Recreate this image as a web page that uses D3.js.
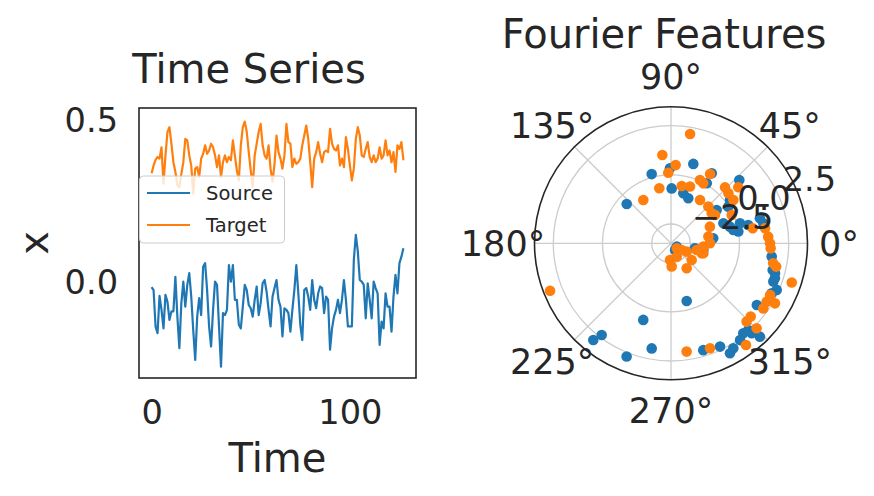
<!DOCTYPE html>
<html><head><meta charset="utf-8">
<script src="https://cdn.jsdelivr.net/npm/d3@7"></script>
<style>
body{margin:0;background:#fff;}
svg{display:block;font-family:"DejaVu Sans",sans-serif;}
</style></head>
<body><svg id="c" width="874" height="496"></svg>
<script>
// ---------------- data ----------------
const sourceSeries = [-0.013,-0.022,-0.134,-0.155,-0.040,-0.083,-0.140,-0.037,-0.058,-0.114,-0.088,-0.088,0.019,-0.104,-0.201,-0.063,0.004,-0.073,-0.006,0.030,-0.042,-0.145,-0.237,-0.104,-0.047,-0.099,0.050,0.061,-0.022,-0.134,-0.196,-0.083,0.004,-0.006,-0.134,-0.258,-0.093,-0.099,-0.083,0.055,0.004,0.055,-0.052,-0.052,-0.129,-0.140,-0.073,-0.006,-0.022,-0.068,-0.078,-0.104,-0.052,-0.011,-0.099,-0.063,-0.001,0.009,-0.027,-0.083,-0.134,-0.042,-0.016,0.009,-0.052,-0.073,-0.165,-0.078,-0.083,-0.093,-0.150,-0.083,-0.022,0.055,-0.032,-0.129,-0.176,-0.022,-0.016,-0.042,-0.083,0.009,-0.052,-0.078,-0.032,-0.011,-0.016,-0.093,-0.042,-0.052,-0.206,-0.140,-0.104,-0.083,-0.052,-0.093,-0.052,0.009,-0.052,-0.134,-0.134,-0.134,0.071,0.148,0.097,0.009,0.004,-0.006,-0.109,-0.001,-0.052,-0.109,0.004,-0.016,-0.032,-0.191,-0.119,-0.140,-0.032,-0.073,-0.073,-0.150,-0.042,0.025,-0.032,0.061,0.081,0.107];
const targetSeries = [0.338,0.362,0.379,0.388,0.383,0.418,0.306,0.393,0.465,0.480,0.429,0.372,0.342,0.301,0.295,0.336,0.372,0.444,0.439,0.393,0.362,0.275,0.352,0.357,0.326,0.383,0.398,0.424,0.398,0.408,0.429,0.418,0.393,0.357,0.393,0.326,0.372,0.393,0.372,0.388,0.378,0.439,0.393,0.347,0.316,0.424,0.480,0.497,0.465,0.403,0.347,0.295,0.393,0.429,0.465,0.490,0.424,0.393,0.383,0.424,0.352,0.311,0.367,0.454,0.403,0.383,0.352,0.393,0.490,0.434,0.429,0.357,0.383,0.367,0.372,0.383,0.424,0.454,0.485,0.444,0.372,0.295,0.383,0.403,0.434,0.398,0.372,0.403,0.408,0.403,0.475,0.429,0.413,0.408,0.424,0.362,0.383,0.357,0.449,0.413,0.362,0.316,0.352,0.444,0.480,0.454,0.393,0.388,0.413,0.434,0.388,0.372,0.393,0.372,0.383,0.418,0.383,0.393,0.439,0.393,0.408,0.372,0.403,0.342,0.424,0.413,0.434,0.378];
const seriesNames = ["Source","Target"];
const seriesColors = ["#1f77b4","#ff7f0e"];
const timeTicks = [0,100];
const xTicks = [0.0,0.5];

// Fourier features: [angle in degrees, radial value]
const sourceFourier = [[74.3,0.71],[105.6,0.17],[90.8,0.33],[89.3,-0.69],[76.2,-0.86],[69,-1.03],[59.8,0.64],[59.2,0.07],[42.8,1.25],[36.3,0.24],[32.6,-0.03],[36.1,-0.61],[20.9,-0.63],[15.8,-0.37],[9.9,-0.01],[16.2,0.17],[12.1,-0.24],[15.7,1.21],[12.2,1.32],[-7.5,1.68],[-16.1,2.02],[-20.5,2.07],[-23.8,2.39],[-26.4,2.23],[-35.7,1.89],[-51.2,2.38],[-54.5,2.56],[-46.4,3.07],[-48.1,2.66],[-64.6,2.33],[-73.2,2.19],[-61.8,2.86],[-59.3,2.72],[138.4,-0.47],[-74.8,-0.44],[-109.9,0.66],[-100.4,1.95],[-111.4,2.70],[-128.8,2.82],[-127.1,2.36],[-30,-3.14],[-59,-3.08],[-11.8,-2.24],[-11.7,-1.80],[13.3,0.55],[6.7,-1.32],[-14.7,1.86],[-18.6,2.09],[-48.3,2.42]];
const targetFourier = [[80.1,2.16],[95.6,1.03],[86.6,0.50],[92.2,0.11],[60.6,0.56],[102,-0.62],[122.6,-0.87],[79.4,-0.52],[71.5,-0.44],[65.4,0.06],[61.7,-0.02],[46,0.47],[41.1,0.39],[39.8,0.97],[34.8,0.38],[25,-0.08],[56.2,-0.83],[44.5,-0.82],[36.4,-0.91],[32.8,-0.82],[23.2,-1.33],[10.2,-1.55],[-5.9,-1.83],[-18,-1.84],[0,-1.50],[10.4,0.74],[9.1,1.36],[3.9,1.47],[0,1.55],[-2.9,1.59],[-11.1,1.81],[-12.5,1.99],[-18,2.97],[-27.6,2.20],[-31.4,2.21],[-35.2,2.26],[-30,2.62],[-42.6,2.02],[-46,2.05],[-44.8,2.65],[-53.6,2.94],[-69.6,2.21],[-81.8,2.08],[-158.6,3.12],[-41,-3.09],[-32,-2.84],[-27.9,-2.58],[-38.9,-2.13],[-57.9,-1.98],[-93.4,-2.63],[-88.3,-2.30],[-66.8,-2.74],[-14.6,-2.13],[-17.2,-1.76]];
const radialTicks = [-2.5,0.0,2.5];
const angleTicks = [0,45,90,135,180,225,270,315];

// ---------------- chart ----------------
const svg = d3.select("#c");
const ink = "#262626";
const tickFont = 33.6, labelFont = 40, polarFont = 35;

// ----- left: time series -----
const L = {x0:139, x1:416, y0:108, y1:378};
const x = d3.scaleLinear().domain([-6.35,133.35]).range([L.x0,L.x1]);
const y = d3.scaleLinear().domain([-0.293,0.539]).range([L.y1,L.y0]);

const gl = svg.append("g");
const line = d3.line().x((d,i)=>x(i)).y(d=>y(d));
[sourceSeries,targetSeries].forEach((s,k)=>{
  gl.append("path").datum(s).attr("d",line).attr("fill","none")
    .attr("stroke",seriesColors[k]).attr("stroke-width",2.2).attr("stroke-linejoin","round");
});
gl.append("rect").attr("x",L.x0).attr("y",L.y0).attr("width",L.x1-L.x0).attr("height",L.y1-L.y0)
  .attr("fill","none").attr("stroke",ink).attr("stroke-width",1.6);

const ax = gl.append("g").attr("transform",`translate(0,${L.y1})`)
  .call(d3.axisBottom(x).tickValues(timeTicks).tickFormat(d3.format("d")).tickSize(0).tickPadding(22));
const ay = gl.append("g").attr("transform",`translate(${L.x0},0)`)
  .call(d3.axisLeft(y).tickValues(xTicks).tickFormat(d3.format(".1f")).tickSize(0).tickPadding(21));
[ax,ay].forEach(a=>{
  a.select(".domain").remove();
  a.selectAll("text").attr("font-size",tickFont).attr("fill",ink).attr("font-family","DejaVu Sans");
});

gl.append("text").attr("x",249).attr("y",83).attr("text-anchor","middle")
  .attr("font-size",labelFont).attr("fill",ink).text("Time Series");
gl.append("text").attr("x",(L.x0+L.x1)/2).attr("y",472).attr("text-anchor","middle")
  .attr("font-size",labelFont).attr("fill",ink).text("Time");
gl.append("text").attr("transform",`translate(48,${(L.y0+L.y1)/2}) rotate(-90)`).attr("text-anchor","middle")
  .attr("font-size",labelFont).attr("fill",ink).text("x");

// legend
const lg = gl.append("g");
lg.append("rect").attr("x",139.5).attr("y",176).attr("width",145).attr("height",67).attr("rx",4)
  .attr("fill","#fff").attr("fill-opacity",0.8).attr("stroke","#cccccc").attr("stroke-width",1);
seriesNames.forEach((n,k)=>{
  const yy = 193 + k*32;
  lg.append("line").attr("x1",147).attr("x2",190).attr("y1",yy).attr("y2",yy)
    .attr("stroke",seriesColors[k]).attr("stroke-width",2.2);
  lg.append("text").attr("x",206).attr("y",yy).attr("dy","0.35em").attr("font-size",19.5)
    .attr("fill",ink).text(n);
});

// ----- right: polar -----
const P = {cx:671, cy:243.3, R:136.5};
const r = d3.scaleLinear().domain([-3.48,3.455]).range([0,P.R]);
const gp = svg.append("g");
const toXY = (deg,val)=>{
  const a = deg*Math.PI/180, rr = r(val);
  return [P.cx + rr*Math.cos(a), P.cy - rr*Math.sin(a)];
};
gp.selectAll("circle.grid").data(radialTicks).join("circle").attr("class","grid")
  .attr("cx",P.cx).attr("cy",P.cy).attr("r",d=>r(d))
  .attr("fill","none").attr("stroke","#cccccc").attr("stroke-width",1.3);
gp.selectAll("line.spoke").data(angleTicks).join("line").attr("class","spoke")
  .attr("x1",P.cx).attr("y1",P.cy)
  .attr("x2",d=>toXY(d,r.domain()[1])[0]).attr("y2",d=>toXY(d,r.domain()[1])[1])
  .attr("stroke","#cccccc").attr("stroke-width",1.3);

[sourceFourier,targetFourier].forEach((pts,k)=>{
  gp.append("g").selectAll("circle").data(pts).join("circle")
    .attr("cx",d=>toXY(d[0],d[1])[0]).attr("cy",d=>toXY(d[0],d[1])[1])
    .attr("r",5.3).attr("fill",seriesColors[k]);
});

gp.append("circle").attr("cx",P.cx).attr("cy",P.cy).attr("r",P.R)
  .attr("fill","none").attr("stroke",ink).attr("stroke-width",1.6);

// radial tick labels at 22.5°
gp.selectAll("text.rl").data(radialTicks).join("text").attr("class","rl")
  .attr("x",d=>toXY(22.5,d)[0]+3).attr("y",d=>toXY(22.5,d)[1]-7)
  .attr("font-size",tickFont).attr("fill",ink)
  .text(d=>d3.format(".1f")(d).replace("-","\u2212"));

// angle labels
gp.selectAll("text.al").data(angleTicks).join("text").attr("class","al")
  .attr("x",d=>P.cx + 168*Math.cos(d*Math.PI/180))
  .attr("y",d=>P.cy - 167*Math.sin(d*Math.PI/180))
  .attr("text-anchor","middle").attr("dy","0.36em")
  .attr("font-size",polarFont).attr("fill",ink).text(d=>d+"°");

gp.append("text").attr("x",664).attr("y",48).attr("text-anchor","middle")
  .attr("font-size",labelFont).attr("fill",ink).text("Fourier Features");
</script>
</body></html>
